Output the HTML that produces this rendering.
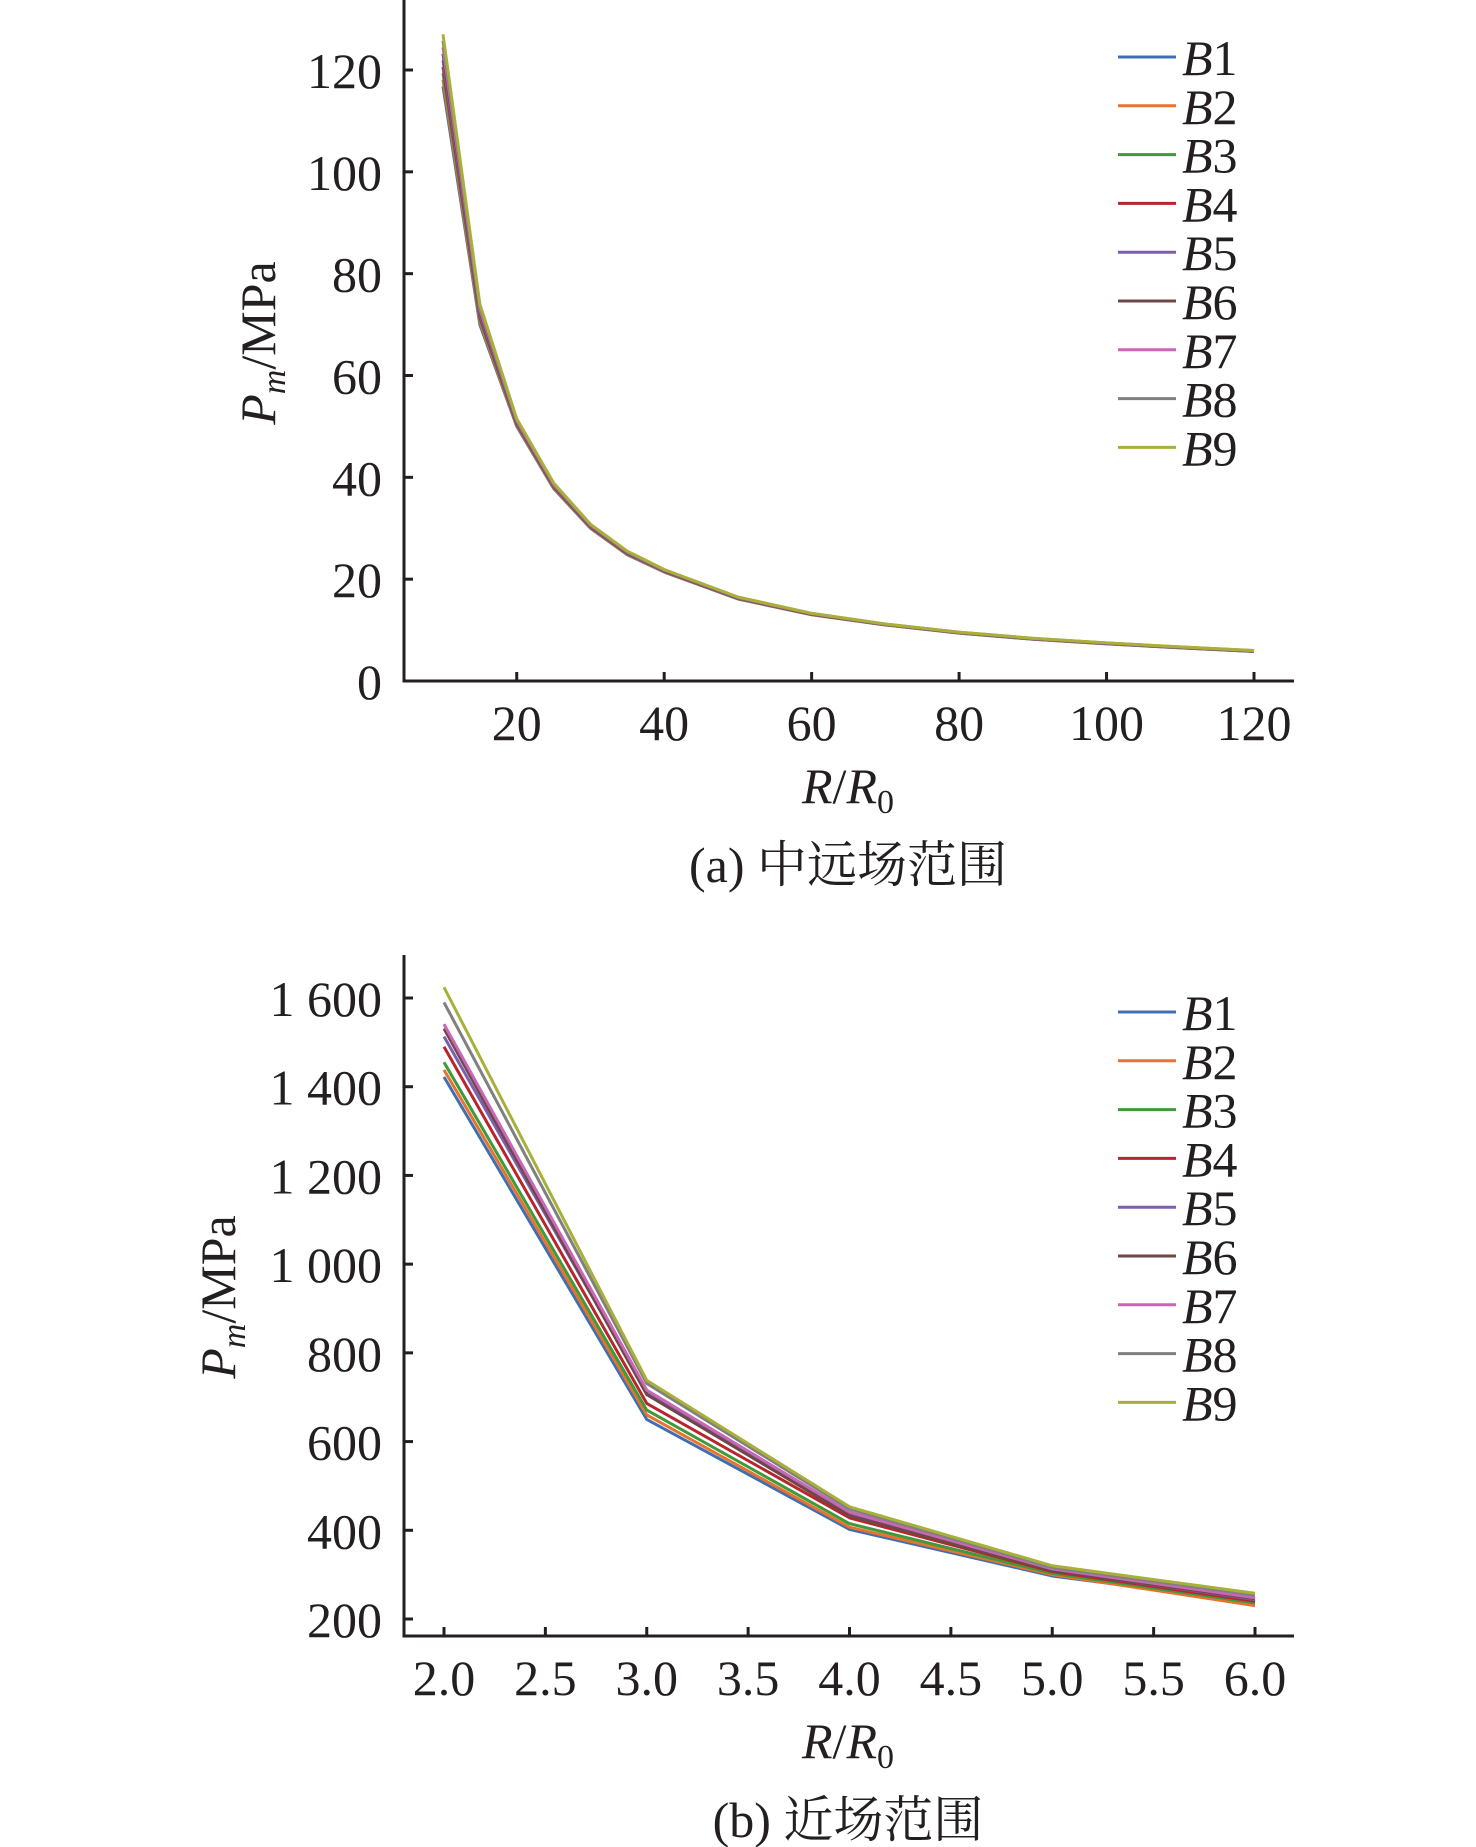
<!DOCTYPE html>
<html><head><meta charset="utf-8"><style>
html,body{margin:0;padding:0;background:#fff;}
svg{display:block;}
text{font-family:"Liberation Serif","Noto Serif CJK SC",serif;fill:#231f20;}
</style></head><body>
<svg id="fig" width="1476" height="1847" viewBox="0 0 1476 1847" xmlns="http://www.w3.org/2000/svg"></svg>
<script>
const seriesNames=["B1","B2","B3","B4","B5","B6","B7","B8","B9"];
const colors=["#3f6fb0","#e8722e","#3e9a3a","#b8252d","#7d5eaf","#6e4848","#c966b5","#808080","#a8b03a"];
const xA=[10,15,20,25,30,35,40,50,60,70,80,90,100,110,120];
const baseA=[116.8,70,50,37.8,30,24.8,21.4,16.1,13.0,11.0,9.4,8.2,7.3,6.5,5.8];
const topA=[127,74,51.5,38.9,30.8,25.5,21.9,16.5,13.3,11.2,9.6,8.4,7.5,6.7,6.0];
const xB=[2,3,4,5,6];
const b1=[1422,650,402,297,238];
const b2=[1438,660,407,300,230];
const b3=[1455,671,415,303,236];
const b4=[1490,686,428,307,240];
const b5=[1513,711,438,310,244];
const b6=[1531,706,433,309,246];
const b7=[1541,716,441,313,248];
const b8=[1590,731,448,316,254];
const b9=[1624,738,453,320,258];
const valsB=[b1,b2,b3,b4,b5,b6,b7,b8,b9];
const yTicksA=[0,20,40,60,80,100,120];
const xTicksA=[20,40,60,80,100,120];
const yTicksB=[200,400,600,800,1000,1200,1400,1600];
const yTickLabelsB=["200","400","600","800","1 000","1 200","1 400","1 600"];
const xTicksB=[2.0,2.5,3.0,3.5,4.0,4.5,5.0,5.5,6.0];

const NS="http://www.w3.org/2000/svg";
const svg=document.getElementById('fig');
function mk(tag,attrs,parent){const e=document.createElementNS(NS,tag);for(const k in attrs)e.setAttribute(k,attrs[k]);(parent||svg).appendChild(e);return e;}

function panel(o){
  const g=mk('g',{});
  
  
  const sx=v=>o.x0+(v-o.xv0)*(o.x1-o.x0)/(o.xv1-o.xv0);
  const sy=v=>o.y0+(v-o.yv0)*(o.y1-o.y0)/(o.yv1-o.yv0);
  // series
  o.series.forEach((vals,i)=>{
    const p=mk('polyline',{points:o.xs.map((x,j)=>sx(x)+','+sy(vals[j])).join(' '),fill:'none',stroke:colors[i],'stroke-width':3,'stroke-linejoin':'round'},g);
    
    
  });
  // axes
  const ax=mk('path',{d:`M${o.axX},${o.axTop} V${o.axBot} H${o.axRight}`,fill:'none',stroke:'#231f20','stroke-width':3},g);
  
  
  o.yt.forEach((v,i)=>{
    mk('line',{x1:o.axX,x2:o.axX+9,y1:sy(v),y2:sy(v),stroke:'#231f20','stroke-width':3},g);
    const t=mk('text',{x:382,y:sy(v)+18,'text-anchor':'end','font-size':50},g);
    t.textContent=o.ytl[i];
    
    
  });
  o.xt.forEach((v,i)=>{
    mk('line',{x1:sx(v),x2:sx(v),y1:o.axBot,y2:o.axBot-9,stroke:'#231f20','stroke-width':3},g);
    const t=mk('text',{x:sx(v),y:o.axBot+59,'text-anchor':'middle','font-size':50},g);
    t.textContent=o.xtl[i];
    
    
  });
  // y title
  const yt=mk('text',{transform:`translate(${o.ytX},${o.ytY}) rotate(-90)`,'text-anchor':'middle','font-size':50},g);
  yt.innerHTML='<tspan font-style="italic">P</tspan><tspan font-style="italic" font-size="34" dy="10">m</tspan><tspan dy="-10">/MPa</tspan>';
  
  
  const xt=mk('text',{x:848,y:o.axBot+122,'text-anchor':'middle','font-size':50},g);
  xt.innerHTML='<tspan font-style="italic">R</tspan>/<tspan font-style="italic">R</tspan><tspan font-size="34" dy="10">0</tspan>';
  
  
  const cap=mk('text',{x:848,y:o.capY,'text-anchor':'middle','font-size':50},g);
  cap.textContent=o.caption;
  
  
  // legend
  seriesNames.forEach((n,i)=>{
    const y=o.legY+i*48.8;
    const le=mk('g',{},g);
    
    
    mk('line',{x1:1118,x2:1176,y1:y,y2:y,stroke:colors[i],'stroke-width':3},le);
    const t=mk('text',{x:1182,y:y+18,'font-size':50},le);
    t.innerHTML='<tspan font-style="italic">B</tspan>'+n.slice(1);
  });
}

const seriesA=seriesNames.map((n,i)=>baseA.map((b,j)=>b+(topA[j]-b)*i/8));
panel({name:'chart-far-field',xs:xA,series:seriesA,x0:443,x1:1254,xv0:10,xv1:120,y0:681,y1:70,yv0:0,yv1:120,
  axX:404,axTop:0,axBot:681,axRight:1294,yt:yTicksA,ytl:yTicksA.map(String),xt:xTicksA,xtl:xTicksA.map(String),
  ytX:275,ytY:343,capY:882,caption:'(a) 中远场范围',legY:57});
panel({name:'chart-near-field',xs:xB,series:valsB,x0:444,x1:1255,xv0:2,xv1:6,y0:1619,y1:998,yv0:200,yv1:1600,
  axX:404,axTop:955,axBot:1636,axRight:1294,yt:yTicksB,ytl:yTickLabelsB,xt:xTicksB,xtl:xTicksB.map(v=>v.toFixed(1)),
  ytX:235,ytY:1297,capY:1837,caption:'(b) 近场范围',legY:1012});
</script>
</body></html>
